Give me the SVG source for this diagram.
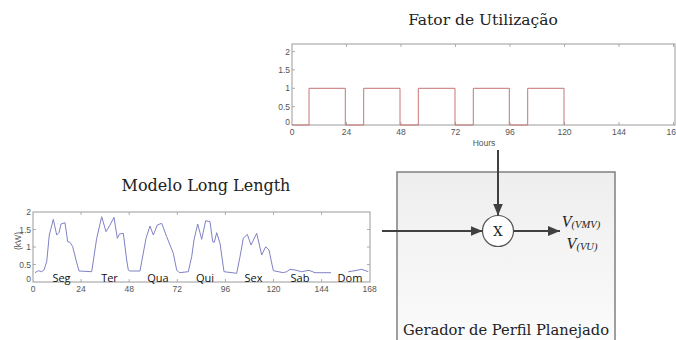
<svg xmlns="http://www.w3.org/2000/svg" width="676" height="340" viewBox="0 0 676 340">
<defs>
<linearGradient id="boxg" x1="0" y1="0" x2="0" y2="1">
<stop offset="0" stop-color="#eeeeee"/>
<stop offset="1" stop-color="#fcfcfc"/>
</linearGradient>
<marker id="ah" viewBox="0 0 12 10" refX="12" refY="5" markerWidth="12" markerHeight="10" markerUnits="userSpaceOnUse" orient="auto">
<path d="M0,0 L12,5 L0,10 z" fill="#404040"/>
</marker>
</defs>
<style>
.title{font-family:"DejaVu Serif","Liberation Serif",serif;fill:#222}
.tick{font-family:"Liberation Sans",Arial,sans-serif;font-size:8.5px;fill:#555}
.ax{fill:#fff;stroke:#9a9a9a;stroke-width:1}
.tk{stroke:#9a9a9a;stroke-width:0.8}
.day{font-family:"Open Sans","Liberation Sans",sans-serif;font-size:11px;fill:#111}
.conn{stroke:#404040;stroke-width:2;fill:none}
.vt{font-family:"Liberation Serif",serif;font-style:italic;fill:#222}
</style>

<g id="fator-utilizacao">
<text class="title" x="483" y="25" text-anchor="middle" font-size="15.5">Fator de Utilização</text>
<rect class="ax" x="292" y="44" width="383" height="81"/>
<g class="tk">
<path d="M346.5,44v3M401,44v3M455.5,44v3M510,44v3M564.5,44v3M619,44v3M673.5,44v3"/>
<path d="M346.5,125v-3M401,125v-3M455.5,125v-3M510,125v-3M564.5,125v-3M619,125v-3M673.5,125v-3"/>
<path d="M292,106.6h3M292,88.3h3M292,69.9h3M292,51.6h3"/>
</g>
<polyline fill="none" stroke="#c87474" stroke-width="1" points="292,125 309,125 309,88.3 345.3,88.3 345.3,125 363.7,125 363.7,88.3 400,88.3 400,125 418.3,125 418.3,88.3 455,88.3 455,125 473.3,125 473.3,88.3 509.3,88.3 509.3,125 527.7,125 527.7,88.3 564,88.3 564,125"/>
<g class="tick" text-anchor="end">
<text x="290" y="54.5">2</text>
<text x="290" y="72.8">1.5</text>
<text x="290" y="91.2">1</text>
<text x="290" y="109.5">0.5</text>
<text x="290" y="125">0</text>
</g>
<g class="tick" text-anchor="middle">
<text x="292" y="135">0</text>
<text x="346.5" y="135">24</text>
<text x="401" y="135">48</text>
<text x="455.5" y="135">72</text>
<text x="510" y="135">96</text>
<text x="564.5" y="135">120</text>
<text x="619" y="135">144</text>
<text x="673.5" y="135">168</text>
<text x="484" y="146">Hours</text>
</g>
</g>

<g id="modelo-long-length">
<text class="title" x="206" y="191" text-anchor="middle" font-size="16">Modelo Long Length</text>
<rect class="ax" x="33" y="212" width="337" height="70"/>
<g class="tk">
<path d="M81.1,212v3M129.2,212v3M177.3,212v3M225.4,212v3M273.5,212v3M321.6,212v3"/>
<path d="M81.1,282v-3M129.2,282v-3M177.3,282v-3M225.4,282v-3M273.5,282v-3M321.6,282v-3"/>
<path d="M33,264.5h3M33,247h3M33,229.5h3M370,264.5h-3M370,247h-3M370,229.5h-3"/>
</g>
<polyline fill="none" stroke="#7f82c6" stroke-width="1" points="35,272.7 38.3,270.7 41.7,271.7 44,270 46.7,261.7 49.3,235 53.3,219.3 56.7,235 59,232.7 61,224 65,222.7 67.7,241.7 70,242.3 72.7,246.7 76,260 79,271 91.7,271.7 96.7,238.3 101.7,216.7 106,231.7 110,225 114,217.3 117.3,238.3 119.5,234 123.3,233.3 126.7,260 128.3,270 130,271 140,271 146,238.3 150,226 153.3,235 157.3,225 161.7,223.3 166.7,236.7 173.3,253.3 176.7,270 179.3,272.7 188.3,271.7 191.7,256.7 194,240 197.7,224 201.7,239.3 205.7,220.7 210,221.7 212.7,241.7 214.3,242.3 216.7,232.7 220,243.3 224,271.7 236.7,273.3 240,256.7 243.3,238.3 247.3,234.3 251,245 256.7,233.3 261.7,255 265.7,246.7 269,250 273.3,270.7 283.3,272.7 286.7,271.7 290,269.3 295,270 301.7,271.7 309,270.3 315,272.7 331,272.7"/>
<polyline fill="none" stroke="#7f82c6" stroke-width="1" points="348.3,271.7 355,270.7 361.7,269.3 368.3,271.7"/>
<g class="day" text-anchor="middle">
<text x="61.5" y="282">Seg</text>
<text x="109.5" y="282">Ter</text>
<text x="158" y="282">Qua</text>
<text x="205" y="282">Qui</text>
<text x="253.5" y="282">Sex</text>
<text x="300" y="282">Sab</text>
<text x="350" y="282">Dom</text>
</g>
<g class="tick" text-anchor="end">
<text x="31" y="215">2</text>
<text x="31" y="232.5">1.5</text>
<text x="31" y="250">1</text>
<text x="31" y="267.5">0.5</text>
<text x="31" y="282">0</text>
</g>
<text class="tick" transform="translate(21,241) rotate(-90)" text-anchor="middle">(kW)</text>
<g class="tick" text-anchor="middle">
<text x="33" y="292">0</text>
<text x="81.1" y="292">24</text>
<text x="129.2" y="292">48</text>
<text x="177.3" y="292">72</text>
<text x="225.4" y="292">96</text>
<text x="273.5" y="292">120</text>
<text x="321.6" y="292">144</text>
<text x="369.7" y="292">168</text>
</g>
</g>

<g id="gerador-perfil-planejado">
<rect x="397" y="172" width="218" height="180" fill="url(#boxg)" stroke="#808080" stroke-width="1.5"/>
<text class="title" x="506" y="335" text-anchor="middle" font-size="14.7">Gerador de Perfil Planejado</text>
</g>

<g id="multiplicador">
<circle cx="498" cy="231" r="15.5" fill="#fff" stroke="#555" stroke-width="1.2"/>
<text x="498" y="236" text-anchor="middle" font-family="DejaVu Serif, serif" font-size="13" fill="#222">X</text>
</g>

<g id="saida">
<text class="vt" x="581" y="227" text-anchor="middle"><tspan font-size="16">V</tspan><tspan font-size="10.5" dy="1">(VMV)</tspan></text>
<text class="vt" x="582" y="249" text-anchor="middle"><tspan font-size="16">V</tspan><tspan font-size="10.5" dy="1">(VU)</tspan></text>
</g>

<g id="connectors">
<line class="conn" x1="498" y1="150" x2="498" y2="215.5" marker-end="url(#ah)"/>
<line class="conn" x1="382" y1="231" x2="482.5" y2="231" marker-end="url(#ah)"/>
<line class="conn" x1="513.5" y1="231" x2="560" y2="231" marker-end="url(#ah)"/>
</g>
</svg>
